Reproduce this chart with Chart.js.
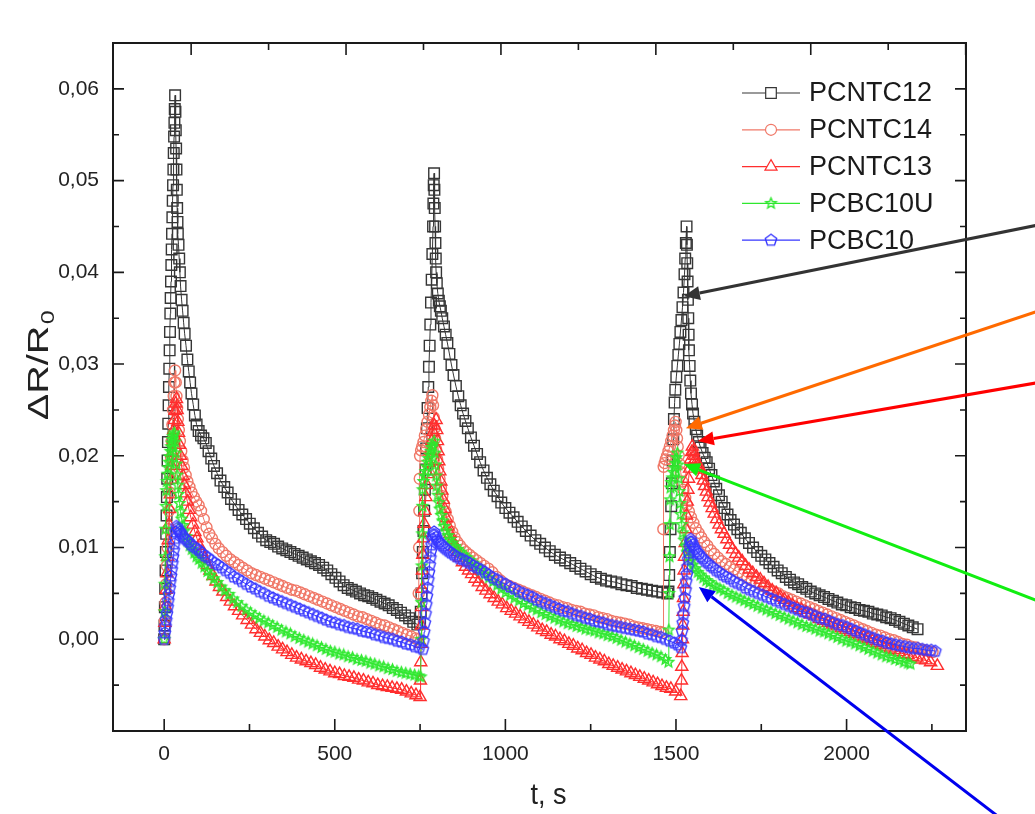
<!DOCTYPE html>
<html>
<head>
<meta charset="utf-8">
<title>dR/R0 vs t</title>
<script src="https://cdn.jsdelivr.net/npm/chart.js@4/dist/chart.umd.min.js"></script>
<style>
  html, body { margin: 0; padding: 0; background: #ffffff; }
  canvas { display: block; }
</style>
</head>
<body>
<canvas id="myChart" width="1035" height="814"></canvas>
<script>
// tick labels
const xTickValues = [0, 500, 1000, 1500, 2000];
const xTickLabels = ['0', '500', '1000', '1500', '2000'];
const xMinorTicks = [250, 750, 1250, 1750, 2250];
const yTickValues = [0, 0.01, 0.02, 0.03, 0.04, 0.05, 0.06];
const yTickLabels = ['0,00', '0,01', '0,02', '0,03', '0,04', '0,05', '0,06'];
const yMinorTicks = [-0.005, 0.005, 0.015, 0.025, 0.035, 0.045, 0.055];
// odd mirrored ticks on the top border of the original plot
const topTicks = [79, 306, 533, 760, 987, 1214, 1441, 1668, 1895, 2122, 2349];

const seriesNames = ['PCNTC12', 'PCNTC14', 'PCNTC13', 'PCBC10U', 'PCBC10'];

// [t (s), dR/R0]
const pcntc12 = [
  [0,0.0000],[1,0.0015],[2,0.0035],[3,0.0055],[4,0.0075],[5,0.0095],[6,0.0115],[7,0.0135],[8,0.0155],[9,0.0175],
  [10,0.0195],[11,0.0215],[12,0.0235],[13,0.0255],[14,0.0275],[15,0.0295],[16,0.0315],[17,0.0335],[18,0.0355],
  [19,0.0372],[20,0.0390],[21,0.0408],[22,0.0425],[23,0.0442],[24,0.0460],[25,0.0478],[26,0.0495],[27,0.0512],
  [28,0.0530],[29,0.0548],[30,0.0563],[31,0.0578],[32,0.0593],
  [33,0.0575],[34,0.0555],[35,0.0535],[36,0.0512],[37,0.0490],[38,0.0470],[39,0.0455],[40,0.0442],[42,0.0430],
  [44,0.0415],[46,0.0400],[48,0.0385],[51,0.0370],[54,0.0358],[57,0.0345],[60,0.0333],[64,0.0320],[68,0.0305],
  [72,0.0292],[76,0.0280],[80,0.0268],[85,0.0256],[90,0.0244],[95,0.0234],[101,0.0227],[108,0.0222],[115,0.0219],
  [122,0.0214],[130,0.0205],[138,0.0197],[146,0.0189],[155,0.0181],[165,0.0173],[176,0.0166],[186,0.0160],
  [196,0.0153],[207,0.0147],[218,0.0141],[229,0.0136],[240,0.0131],[251,0.0126],[263,0.0121],[275,0.0116],
  [287,0.0112],[299,0.0108],[311,0.0106],[322,0.0104],[334,0.0101],[346,0.0099],[358,0.0097],[370,0.0095],
  [382,0.0093],[394,0.0091],[406,0.0089],[418,0.0087],[430,0.0085],[442,0.0083],[454,0.0081],[466,0.0078],
  [478,0.0075],[490,0.0071],[502,0.0067],[514,0.0063],[526,0.0059],[538,0.0056],[550,0.0054],[562,0.0052],
  [574,0.0050],[586,0.0048],[598,0.0047],[610,0.0045],[622,0.0043],[634,0.0041],[646,0.0039],[658,0.0037],
  [670,0.0034],[682,0.0032],[694,0.0029],[706,0.0026],[718,0.0023],[730,0.0019],[742,0.0016],
  [750,0.0018],[752,0.0030],[754,0.0050],[756,0.0072],[758,0.0095],[760,0.0118],[762,0.0140],[764,0.0163],
  [766,0.0185],[768,0.0208],[770,0.0230],[772,0.0252],[774,0.0275],[776,0.0297],[778,0.0320],[780,0.0343],
  [782,0.0367],[784,0.0392],[786,0.0420],[788,0.0450],[789,0.0475],[790,0.0495],[791,0.0508],
  [792,0.0490],[793,0.0470],[794,0.0450],[795,0.0432],[796,0.0415],[797,0.0400],[799,0.0388],[802,0.0377],
  [805,0.0369],[808,0.0363],[811,0.0358],[815,0.0350],[820,0.0341],[825,0.0332],[830,0.0323],[836,0.0311],
  [842,0.0299],[848,0.0288],[855,0.0276],[862,0.0265],[869,0.0255],[876,0.0246],[883,0.0238],[890,0.0230],
  [899,0.0220],[908,0.0211],[917,0.0202],[926,0.0193],[936,0.0184],[946,0.0176],[956,0.0169],[966,0.0162],
  [977,0.0156],[988,0.0149],[1000,0.0143],[1012,0.0138],[1024,0.0133],[1036,0.0128],[1048,0.0123],[1060,0.0118],
  [1074,0.0113],[1088,0.0108],[1102,0.0104],[1116,0.0100],[1130,0.0096],[1145,0.0092],[1160,0.0089],[1175,0.0086],
  [1190,0.0083],[1205,0.0080],[1220,0.0077],[1235,0.0074],[1250,0.0071],[1265,0.0068],[1280,0.0066],[1295,0.0064],
  [1310,0.0063],[1325,0.0062],[1340,0.0060],[1355,0.0059],[1370,0.0058],[1385,0.0056],[1400,0.0055],[1415,0.0054],
  [1430,0.0053],[1445,0.0052],[1460,0.0051],[1475,0.0050],
  [1478,0.0052],[1480,0.0070],[1482,0.0095],[1484,0.0120],[1486,0.0145],[1488,0.0170],[1490,0.0195],[1492,0.0218],
  [1494,0.0240],[1496,0.0258],[1498,0.0272],[1501,0.0286],[1504,0.0298],[1507,0.0310],[1510,0.0322],[1513,0.0335],
  [1516,0.0348],[1519,0.0362],[1522,0.0378],[1525,0.0398],[1527,0.0415],[1529,0.0432],[1531,0.0450],
  [1532,0.0430],[1533,0.0410],[1534,0.0390],[1535,0.0370],[1536,0.0350],[1537,0.0332],[1538,0.0315],[1540,0.0298],
  [1542,0.0282],[1544,0.0268],[1547,0.0256],[1550,0.0246],[1554,0.0237],[1558,0.0229],[1562,0.0222],[1567,0.0215],
  [1572,0.0209],[1578,0.0203],[1584,0.0198],[1590,0.0193],[1597,0.0186],[1604,0.0179],[1611,0.0172],[1618,0.0164],
  [1626,0.0157],[1634,0.0150],[1642,0.0143],[1651,0.0136],[1660,0.0130],[1670,0.0125],[1680,0.0120],[1690,0.0116],
  [1702,0.0110],[1714,0.0105],[1726,0.0100],[1738,0.0095],[1750,0.0091],[1762,0.0087],[1774,0.0083],[1786,0.0079],
  [1798,0.0075],[1810,0.0072],[1822,0.0068],[1834,0.0065],[1846,0.0062],[1858,0.0060],[1870,0.0057],[1882,0.0055],
  [1895,0.0052],[1908,0.0050],[1921,0.0048],[1934,0.0046],[1947,0.0044],[1960,0.0042],[1973,0.0040],[1986,0.0038],
  [1999,0.0037],[2012,0.0035],[2025,0.0034],[2038,0.0032],[2051,0.0031],[2064,0.0030],[2077,0.0028],[2090,0.0027],
  [2103,0.0026],[2116,0.0024],[2129,0.0023],[2142,0.0021],[2155,0.0019],[2168,0.0017],[2181,0.0015],[2194,0.0013],
  [2208,0.0011]
];

const pcntc14 = [
  [0,0.0000],[2,0.0020],[4,0.0040],[6,0.0060],[8,0.0080],[10,0.0100],[12,0.0120],[14,0.0140],[16,0.0160],
  [18,0.0180],[20,0.0198],[22,0.0216],[24,0.0234],[26,0.0250],[28,0.0265],[30,0.0280],[32,0.0293],
  [34,0.0280],[36,0.0265],[38,0.0252],[40,0.0240],[43,0.0228],[46,0.0216],[50,0.0205],[54,0.0195],[58,0.0187],
  [63,0.0179],[68,0.0172],[74,0.0166],[80,0.0160],[87,0.0155],[94,0.0150],[101,0.0146],[108,0.0140],[116,0.0131],
  [124,0.0122],[132,0.0115],[140,0.0110],[150,0.0104],[160,0.0099],[171,0.0095],[182,0.0091],[194,0.0087],
  [206,0.0084],[218,0.0081],[230,0.0078],[243,0.0075],[256,0.0072],[269,0.0070],[282,0.0068],[295,0.0066],
  [308,0.0064],[321,0.0062],[334,0.0060],[347,0.0058],[360,0.0056],[373,0.0054],[386,0.0053],[399,0.0051],
  [412,0.0049],[425,0.0047],[438,0.0045],[451,0.0043],[464,0.0041],[477,0.0039],[490,0.0037],[503,0.0035],
  [516,0.0033],[529,0.0031],[542,0.0029],[555,0.0027],[568,0.0025],[581,0.0024],[594,0.0022],[607,0.0020],
  [620,0.0018],[633,0.0016],[646,0.0015],[659,0.0013],[672,0.0011],[685,0.0009],[698,0.0007],[711,0.0005],
  [724,0.0003],[737,0.0001],[745,0.0000],
  [746,0.0050],[747,0.0100],[748,0.0140],[749,0.0175],[750,0.0200],[753,0.0206],[756,0.0210],[760,0.0215],
  [764,0.0222],[768,0.0229],[772,0.0237],[776,0.0245],[780,0.0253],[783,0.0260],[786,0.0266],
  [788,0.0255],[790,0.0242],[792,0.0230],[794,0.0219],[797,0.0207],[800,0.0196],[803,0.0186],[807,0.0175],
  [811,0.0165],[815,0.0156],[820,0.0147],[825,0.0139],[831,0.0131],[837,0.0124],[844,0.0117],[851,0.0111],
  [859,0.0106],[867,0.0102],[876,0.0098],[885,0.0095],[895,0.0092],[905,0.0089],[916,0.0086],[927,0.0083],
  [938,0.0080],[950,0.0077],[962,0.0073],[974,0.0068],[986,0.0064],[999,0.0060],[1012,0.0058],[1025,0.0056],
  [1038,0.0054],[1051,0.0052],[1064,0.0050],[1077,0.0048],[1090,0.0046],[1103,0.0044],[1116,0.0042],[1129,0.0040],
  [1142,0.0038],[1155,0.0037],[1168,0.0035],[1181,0.0034],[1194,0.0032],[1207,0.0031],[1220,0.0030],[1233,0.0028],
  [1246,0.0027],[1259,0.0026],[1272,0.0024],[1285,0.0023],[1298,0.0022],[1311,0.0020],[1324,0.0019],[1337,0.0018],
  [1350,0.0017],[1363,0.0016],[1376,0.0014],[1389,0.0013],[1402,0.0012],[1415,0.0011],[1428,0.0010],[1441,0.0009],
  [1454,0.0008],[1462,0.0007],
  [1463,0.0120],[1464,0.0188],[1467,0.0192],[1470,0.0196],[1474,0.0200],[1478,0.0205],[1482,0.0210],[1486,0.0216],
  [1490,0.0222],[1494,0.0228],[1497,0.0233],[1499,0.0237],
  [1501,0.0228],[1503,0.0219],[1505,0.0210],[1508,0.0200],[1511,0.0191],[1514,0.0182],[1518,0.0172],[1522,0.0163],
  [1527,0.0154],[1532,0.0146],[1538,0.0139],[1544,0.0133],[1551,0.0127],[1558,0.0121],[1566,0.0116],[1574,0.0111],
  [1583,0.0106],[1592,0.0102],[1602,0.0097],[1612,0.0093],[1623,0.0089],[1634,0.0085],[1646,0.0082],[1658,0.0079],
  [1670,0.0076],[1683,0.0073],[1696,0.0070],[1709,0.0067],[1722,0.0064],[1735,0.0062],[1748,0.0059],[1761,0.0057],
  [1774,0.0054],[1787,0.0052],[1800,0.0050],[1813,0.0047],[1826,0.0045],[1839,0.0043],[1852,0.0041],[1865,0.0039],
  [1878,0.0037],[1891,0.0035],[1904,0.0033],[1917,0.0031],[1930,0.0029],[1943,0.0027],[1956,0.0025],[1969,0.0023],
  [1982,0.0021],[1995,0.0019],[2008,0.0017],[2021,0.0015],[2034,0.0013],[2047,0.0011],[2060,0.0009],[2073,0.0007],
  [2086,0.0005],[2099,0.0004],[2112,0.0002],[2125,0.0000],[2138,-0.0001],[2151,-0.0003],[2164,-0.0005],
  [2177,-0.0006],[2190,-0.0008],[2203,-0.0009],[2216,-0.0011],[2229,-0.0012],[2242,-0.0013],[2252,-0.0014]
];

const pcntc13 = [
  [0,0.0000],[2,0.0018],[4,0.0036],[6,0.0054],[8,0.0072],[10,0.0090],[12,0.0108],[14,0.0125],[16,0.0142],
  [18,0.0158],[20,0.0174],[22,0.0189],[24,0.0203],[26,0.0216],[28,0.0228],[30,0.0239],[32,0.0249],[34,0.0257],
  [36,0.0262],
  [38,0.0250],[40,0.0237],[42,0.0225],[45,0.0212],[48,0.0200],[51,0.0189],[55,0.0178],[59,0.0168],[63,0.0159],
  [68,0.0150],[73,0.0141],[78,0.0133],[84,0.0125],[90,0.0117],[96,0.0110],[103,0.0102],[110,0.0095],[118,0.0088],
  [126,0.0081],[134,0.0075],[143,0.0069],[152,0.0063],[162,0.0057],[172,0.0052],[183,0.0046],[194,0.0041],
  [206,0.0036],[218,0.0031],[230,0.0026],[243,0.0021],[256,0.0016],[269,0.0011],[282,0.0007],[295,0.0003],
  [308,-0.0001],[321,-0.0004],[334,-0.0008],[347,-0.0011],[360,-0.0014],[374,-0.0017],[388,-0.0020],[402,-0.0022],
  [416,-0.0024],[430,-0.0026],[444,-0.0028],[458,-0.0031],[472,-0.0033],[486,-0.0035],[500,-0.0037],[514,-0.0038],
  [528,-0.0040],[542,-0.0041],[556,-0.0042],[570,-0.0044],[584,-0.0045],[598,-0.0047],[612,-0.0048],[626,-0.0050],
  [640,-0.0051],[654,-0.0052],[668,-0.0053],[682,-0.0054],[696,-0.0055],[710,-0.0057],[724,-0.0059],[738,-0.0061],
  [750,-0.0063],
  [751,-0.0045],[752,-0.0025],[753,-0.0005],[754,0.0015],[755,0.0035],[756,0.0055],[757,0.0075],[758,0.0092],
  [760,0.0110],[762,0.0126],[764,0.0140],[767,0.0155],[770,0.0168],[773,0.0180],[776,0.0192],[780,0.0205],
  [784,0.0216],[788,0.0226],[792,0.0233],[797,0.0239],
  [799,0.0228],[801,0.0216],[803,0.0205],[805,0.0194],[808,0.0183],[811,0.0172],[814,0.0162],[818,0.0152],
  [822,0.0142],[827,0.0132],[832,0.0123],[838,0.0115],[844,0.0108],[851,0.0101],[858,0.0095],[866,0.0089],
  [874,0.0084],[883,0.0079],[892,0.0075],[901,0.0071],[911,0.0066],[921,0.0062],[932,0.0057],[943,0.0053],
  [955,0.0049],[967,0.0045],[979,0.0041],[991,0.0038],[1004,0.0034],[1017,0.0031],[1030,0.0028],[1043,0.0025],
  [1056,0.0022],[1069,0.0019],[1082,0.0016],[1095,0.0013],[1108,0.0010],[1121,0.0008],[1134,0.0005],[1147,0.0003],
  [1160,0.0000],[1173,-0.0002],[1186,-0.0005],[1199,-0.0007],[1212,-0.0010],[1225,-0.0012],[1238,-0.0015],
  [1251,-0.0017],[1264,-0.0020],[1277,-0.0022],[1290,-0.0024],[1303,-0.0027],[1316,-0.0029],[1329,-0.0031],
  [1342,-0.0033],[1355,-0.0035],[1368,-0.0037],[1381,-0.0039],[1394,-0.0041],[1407,-0.0043],[1420,-0.0045],
  [1433,-0.0047],[1446,-0.0049],[1459,-0.0051],[1472,-0.0053],[1485,-0.0054],[1499,-0.0057],[1514,-0.0062],
  [1516,-0.0045],[1517,-0.0030],[1518,-0.0015],[1519,0.0000],[1520,0.0015],[1521,0.0030],[1522,0.0045],
  [1523,0.0060],[1524,0.0075],[1525,0.0090],[1527,0.0105],[1529,0.0120],[1531,0.0135],[1533,0.0150],[1535,0.0163],
  [1537,0.0175],[1540,0.0186],[1543,0.0196],[1546,0.0204],[1548,0.0210],
  [1551,0.0205],[1554,0.0200],[1557,0.0196],[1560,0.0193],[1563,0.0191],[1566,0.0189],[1569,0.0187],[1572,0.0185],
  [1576,0.0179],[1580,0.0173],[1584,0.0167],[1589,0.0161],[1594,0.0155],[1600,0.0149],[1606,0.0143],[1612,0.0137],
  [1619,0.0131],[1626,0.0125],[1633,0.0120],[1641,0.0115],[1649,0.0109],[1657,0.0103],[1666,0.0098],[1675,0.0093],
  [1684,0.0089],[1694,0.0085],[1704,0.0080],[1714,0.0076],[1725,0.0072],[1736,0.0068],[1747,0.0065],[1758,0.0061],
  [1770,0.0057],[1782,0.0053],[1794,0.0050],[1806,0.0046],[1818,0.0043],[1830,0.0040],[1842,0.0037],[1855,0.0034],
  [1868,0.0032],[1881,0.0029],[1894,0.0027],[1907,0.0025],[1920,0.0022],[1933,0.0020],[1946,0.0018],[1959,0.0016],
  [1972,0.0014],[1985,0.0012],[1998,0.0010],[2011,0.0008],[2024,0.0006],[2037,0.0004],[2050,0.0002],[2063,0.0000],
  [2076,-0.0002],[2089,-0.0004],[2102,-0.0006],[2115,-0.0008],[2128,-0.0010],[2141,-0.0012],[2154,-0.0014],
  [2167,-0.0016],[2180,-0.0017],[2193,-0.0019],[2206,-0.0020],[2219,-0.0022],[2232,-0.0023],[2246,-0.0025],
  [2266,-0.0029]
];

const pcbc10u = [
  [0,0.0000],[1,0.0030],[2,0.0060],[3,0.0090],[4,0.0120],[5,0.0145],[6,0.0162],[8,0.0172],[10,0.0180],[12,0.0187],
  [14,0.0193],[16,0.0199],[18,0.0205],[20,0.0210],[22,0.0214],[24,0.0218],[26,0.0221],[28,0.0223],[30,0.0225],
  [32,0.0215],[34,0.0203],[36,0.0191],[38,0.0179],[40,0.0168],[42,0.0158],[45,0.0148],[48,0.0139],[51,0.0131],
  [55,0.0124],[59,0.0118],[64,0.0112],[69,0.0107],[75,0.0102],[81,0.0098],[88,0.0094],[95,0.0090],[102,0.0087],
  [110,0.0083],[118,0.0079],[127,0.0074],[136,0.0070],[146,0.0066],[156,0.0062],[167,0.0057],[178,0.0053],
  [190,0.0049],[202,0.0044],[214,0.0040],[227,0.0036],[240,0.0032],[253,0.0029],[266,0.0026],[279,0.0023],
  [292,0.0020],[305,0.0018],[318,0.0015],[331,0.0013],[344,0.0010],[357,0.0008],[370,0.0006],[383,0.0003],
  [396,0.0001],[409,-0.0001],[422,-0.0003],[435,-0.0005],[448,-0.0007],[461,-0.0009],[474,-0.0011],[487,-0.0013],
  [500,-0.0014],[513,-0.0016],[526,-0.0017],[539,-0.0019],[552,-0.0020],[565,-0.0022],[578,-0.0023],[591,-0.0024],
  [604,-0.0026],[617,-0.0027],[630,-0.0029],[643,-0.0030],[656,-0.0032],[669,-0.0033],[682,-0.0035],[695,-0.0036],
  [708,-0.0037],[721,-0.0038],[734,-0.0039],[746,-0.0040],[752,-0.0041],
  [753,0.0000],[754,0.0040],[755,0.0080],[756,0.0115],[757,0.0145],[758,0.0163],[760,0.0172],[763,0.0178],
  [766,0.0183],[769,0.0188],[772,0.0193],[775,0.0197],[778,0.0201],[781,0.0205],[784,0.0209],[787,0.0212],
  [791,0.0216],
  [793,0.0203],[795,0.0190],[797,0.0178],[799,0.0167],[802,0.0157],[805,0.0149],[808,0.0142],[812,0.0135],
  [816,0.0129],[821,0.0123],[826,0.0118],[832,0.0113],[838,0.0109],[845,0.0105],[852,0.0101],[860,0.0098],
  [868,0.0095],[877,0.0092],[886,0.0089],[896,0.0086],[906,0.0083],[917,0.0079],[928,0.0075],[940,0.0071],
  [952,0.0067],[964,0.0063],[976,0.0059],[988,0.0055],[1001,0.0051],[1014,0.0048],[1027,0.0045],[1040,0.0042],
  [1053,0.0039],[1066,0.0037],[1079,0.0034],[1092,0.0032],[1105,0.0029],[1118,0.0027],[1131,0.0025],[1144,0.0023],
  [1157,0.0021],[1170,0.0019],[1183,0.0017],[1196,0.0016],[1209,0.0014],[1222,0.0013],[1235,0.0011],[1248,0.0010],
  [1261,0.0009],[1274,0.0007],[1287,0.0006],[1300,0.0004],[1313,0.0003],[1326,0.0001],[1339,-0.0001],
  [1352,-0.0003],[1365,-0.0005],[1378,-0.0007],[1391,-0.0009],[1404,-0.0011],[1417,-0.0013],[1430,-0.0015],
  [1443,-0.0017],[1456,-0.0019],[1469,-0.0022],[1478,-0.0025],
  [1479,0.0010],[1480,0.0050],[1481,0.0090],[1482,0.0125],[1483,0.0152],[1484,0.0165],[1486,0.0171],[1489,0.0176],
  [1492,0.0182],[1495,0.0187],[1498,0.0192],[1501,0.0198],[1504,0.0203],
  [1506,0.0190],[1508,0.0175],[1510,0.0161],[1512,0.0148],[1514,0.0136],[1517,0.0125],[1520,0.0116],[1524,0.0108],
  [1528,0.0101],[1533,0.0095],[1538,0.0090],[1544,0.0085],[1550,0.0081],[1557,0.0077],[1564,0.0073],[1572,0.0070],
  [1580,0.0067],[1589,0.0064],[1598,0.0062],[1608,0.0059],[1618,0.0057],[1629,0.0055],[1640,0.0053],[1652,0.0050],
  [1664,0.0048],[1676,0.0046],[1688,0.0044],[1700,0.0042],[1713,0.0040],[1726,0.0038],[1739,0.0036],[1752,0.0034],
  [1765,0.0032],[1778,0.0030],[1791,0.0028],[1804,0.0026],[1817,0.0024],[1830,0.0022],[1843,0.0020],[1856,0.0018],
  [1869,0.0016],[1882,0.0014],[1895,0.0013],[1908,0.0011],[1921,0.0009],[1934,0.0008],[1947,0.0006],[1960,0.0004],
  [1973,0.0002],[1986,0.0000],[1999,-0.0002],[2012,-0.0003],[2025,-0.0005],[2038,-0.0007],[2051,-0.0009],
  [2064,-0.0011],[2077,-0.0013],[2090,-0.0015],[2103,-0.0017],[2116,-0.0019],[2129,-0.0020],[2142,-0.0022],
  [2155,-0.0023],[2168,-0.0025],[2180,-0.0026],[2187,-0.0027]
];

const pcbc10 = [
  [0,0.0000],[2,0.0007],[4,0.0014],[6,0.0021],[8,0.0028],[10,0.0035],[12,0.0042],[14,0.0049],[16,0.0056],
  [18,0.0063],[20,0.0069],[22,0.0076],[24,0.0083],[26,0.0090],[28,0.0097],[30,0.0104],[32,0.0110],[34,0.0117],
  [36,0.0123],
  [39,0.0121],[42,0.0119],[46,0.0117],[50,0.0115],[55,0.0112],[60,0.0110],[66,0.0108],[72,0.0106],[79,0.0103],
  [86,0.0101],[94,0.0099],[102,0.0097],[110,0.0094],[119,0.0091],[128,0.0089],[138,0.0086],[148,0.0083],
  [158,0.0081],[169,0.0078],[180,0.0075],[192,0.0072],[204,0.0068],[216,0.0066],[228,0.0063],[241,0.0060],
  [254,0.0057],[267,0.0055],[280,0.0052],[293,0.0050],[306,0.0047],[319,0.0045],[332,0.0043],[345,0.0041],
  [358,0.0039],[371,0.0037],[384,0.0035],[397,0.0033],[410,0.0031],[423,0.0029],[436,0.0027],[449,0.0025],
  [462,0.0023],[475,0.0021],[488,0.0019],[501,0.0018],[514,0.0016],[527,0.0015],[540,0.0013],[553,0.0012],
  [566,0.0011],[579,0.0009],[592,0.0008],[605,0.0007],[618,0.0005],[631,0.0004],[644,0.0002],[657,0.0001],
  [670,0.0000],[683,-0.0002],[696,-0.0003],[709,-0.0005],[722,-0.0006],[735,-0.0008],[748,-0.0009],[758,-0.0011],
  [760,-0.0002],[762,0.0008],[764,0.0018],[766,0.0028],[768,0.0038],[770,0.0047],[772,0.0056],[774,0.0065],
  [776,0.0073],[778,0.0081],[780,0.0089],[782,0.0096],[784,0.0103],[786,0.0109],[788,0.0114],[791,0.0117],
  [794,0.0114],[797,0.0111],[801,0.0108],[805,0.0106],[810,0.0104],[815,0.0102],[821,0.0100],[827,0.0098],
  [834,0.0096],[841,0.0094],[849,0.0092],[857,0.0090],[866,0.0088],[875,0.0087],[885,0.0085],[895,0.0083],
  [906,0.0080],[917,0.0078],[928,0.0076],[940,0.0073],[952,0.0070],[964,0.0067],[976,0.0065],[988,0.0062],
  [1001,0.0060],[1014,0.0057],[1027,0.0055],[1040,0.0052],[1053,0.0050],[1066,0.0048],[1079,0.0046],[1092,0.0043],
  [1105,0.0041],[1118,0.0039],[1131,0.0037],[1144,0.0035],[1157,0.0033],[1170,0.0031],[1183,0.0030],[1196,0.0028],
  [1209,0.0026],[1222,0.0025],[1235,0.0023],[1248,0.0022],[1261,0.0020],[1274,0.0019],[1287,0.0018],[1300,0.0016],
  [1313,0.0015],[1326,0.0014],[1339,0.0013],[1352,0.0012],[1365,0.0011],[1378,0.0010],[1391,0.0009],[1404,0.0008],
  [1417,0.0006],[1430,0.0005],[1443,0.0003],[1456,0.0002],[1469,0.0000],[1482,-0.0002],[1495,-0.0004],
  [1505,-0.0006],[1514,-0.0009],
  [1516,-0.0001],[1518,0.0009],[1520,0.0018],[1522,0.0027],[1524,0.0036],[1526,0.0045],[1528,0.0054],[1530,0.0063],
  [1532,0.0071],[1534,0.0079],[1536,0.0087],[1538,0.0094],[1540,0.0101],[1542,0.0106],[1543,0.0109],
  [1546,0.0106],[1549,0.0103],[1553,0.0100],[1557,0.0098],[1562,0.0095],[1567,0.0093],[1573,0.0090],[1579,0.0088],
  [1586,0.0085],[1593,0.0083],[1601,0.0080],[1609,0.0078],[1618,0.0075],[1627,0.0073],[1637,0.0070],[1647,0.0068],
  [1658,0.0066],[1669,0.0063],[1680,0.0061],[1692,0.0059],[1704,0.0056],[1716,0.0054],[1728,0.0052],[1741,0.0050],
  [1754,0.0048],[1767,0.0046],[1780,0.0044],[1793,0.0042],[1806,0.0040],[1819,0.0038],[1832,0.0036],[1845,0.0034],
  [1858,0.0032],[1871,0.0030],[1884,0.0029],[1897,0.0027],[1910,0.0025],[1923,0.0023],[1936,0.0022],[1949,0.0020],
  [1962,0.0018],[1975,0.0016],[1988,0.0015],[2001,0.0013],[2014,0.0011],[2027,0.0009],[2040,0.0007],[2053,0.0005],
  [2066,0.0003],[2079,0.0001],[2092,-0.0001],[2105,-0.0002],[2118,-0.0004],[2131,-0.0005],[2144,-0.0006],
  [2157,-0.0007],[2170,-0.0008],[2183,-0.0009],[2196,-0.0010],[2209,-0.0010],[2222,-0.0011],[2235,-0.0012],
  [2248,-0.0012],[2260,-0.0013]
];

// annotation arrows, tail -> tip, in data units
const arrowTipT = [1523, 1529, 1564, 1523, 1567];
const arrowTipV = [0.0374, 0.0230, 0.0216, 0.0191, 0.0057];
const arrowTailT = [2580, 2580, 2580, 2580, 2440];
const arrowTailV = [0.0453, 0.0360, 0.0281, 0.0039, -0.0192];
const arrowColors = ['#333333', '#ff6a00', '#ff0000', '#11ee11', '#0000ee'];

const FONT = "'Liberation Sans', Arial, Helvetica, sans-serif";

function shapeCanvas(color, r, n, inner) {
  const s = Math.ceil(r * 2 + 4);
  const c = document.createElement('canvas');
  c.width = s; c.height = s;
  const g = c.getContext('2d');
  g.strokeStyle = color;
  g.lineWidth = 1.4;
  g.beginPath();
  const k = inner ? n * 2 : n;
  for (let i = 0; i < k; i++) {
    const a = -Math.PI / 2 + i * 2 * Math.PI / k;
    const rr = inner && i % 2 ? r * inner : r;
    g.lineTo(s / 2 + rr * Math.cos(a), s / 2 + rr * Math.sin(a));
  }
  g.closePath();
  g.stroke();
  return c;
}

const colors = ['#363636', '#f07868', '#ff2e2e', '#2ee82e', '#3636ff'];
const styles = [
  { pointStyle: 'rect', radius: 7.5 },
  { pointStyle: 'circle', radius: 5.5 },
  { pointStyle: 'triangle', radius: 7 },
  { pointStyle: shapeCanvas(colors[3], 5.5, 5, 0.45), radius: 5.5 },
  { pointStyle: shapeCanvas(colors[4], 6, 5, 0), radius: 6 }
];
const allData = [pcntc12, pcntc14, pcntc13, pcbc10u, pcbc10];

const framePlugin = {
  id: 'frame',
  afterDraw(chart) {
    const { ctx, chartArea: a, scales: { x, y } } = chart;
    ctx.save();
    ctx.strokeStyle = '#1a1a1a';
    ctx.lineWidth = 2;
    ctx.strokeRect(a.left, a.top, a.right - a.left, a.bottom - a.top);
    ctx.lineWidth = 1.6;
    ctx.beginPath();
    const xt = (v, len) => {
      const px = x.getPixelForValue(v);
      ctx.moveTo(px, a.bottom); ctx.lineTo(px, a.bottom - len);
    };
    xTickValues.forEach(v => xt(v, 12));
    xMinorTicks.forEach(v => xt(v, 7));
    topTicks.forEach((v, i) => {
      const px = x.getPixelForValue(v);
      ctx.moveTo(px, a.top); ctx.lineTo(px, a.top + (i % 2 ? 7 : 12));
    });
    const yt = (v, len) => {
      const py = y.getPixelForValue(v);
      ctx.moveTo(a.left, py); ctx.lineTo(a.left + len, py);
      ctx.moveTo(a.right, py); ctx.lineTo(a.right - len, py);
    };
    yTickValues.forEach(v => yt(v, 11));
    yMinorTicks.forEach(v => yt(v, 6));
    ctx.stroke();

    // axis titles
    ctx.fillStyle = '#222';
    ctx.textAlign = 'center';
    ctx.textBaseline = 'middle';
    ctx.font = '27px ' + FONT;
    ctx.save();
    ctx.translate((a.left + a.right) / 2 + 9, 796);
    ctx.scale(1, 1.12);
    ctx.fillText('t, s', 0, 0);
    ctx.restore();
    ctx.translate(40, (a.top + a.bottom) / 2 - 21);
    ctx.rotate(-Math.PI / 2);
    ctx.scale(1.32, 1);
    ctx.textAlign = 'left';
    const main = '\u0394R/R';
    ctx.font = '30px ' + FONT;
    const w = ctx.measureText(main).width;
    ctx.font = '19px ' + FONT;
    const w0 = ctx.measureText('0').width;
    ctx.font = '30px ' + FONT;
    ctx.fillText(main, -(w + w0) / 2, 0);
    ctx.font = '19px ' + FONT;
    ctx.fillText('0', -(w + w0) / 2 + w + 1, 9);
    ctx.restore();
  }
};

const legendPlugin = {
  id: 'boxLegend',
  afterDraw(chart) {
    const { ctx, chartArea: a } = chart;
    ctx.save();
    chart.data.datasets.forEach((ds, i) => {
      const yy = a.top + 50 + i * 36.8;
      const x0 = a.right - 224;
      ctx.strokeStyle = ds.borderColor;
      ctx.lineWidth = 1.2;
      ctx.beginPath();
      ctx.moveTo(x0, yy); ctx.lineTo(x0 + 58, yy);
      ctx.stroke();
      ctx.fillStyle = '#fff';
      Chart.helpers.drawPoint(ctx, {
        pointStyle: ds.pointStyle, radius: ds.pointRadius, borderWidth: 1.2, rotation: 0
      }, x0 + 29, yy);
      ctx.fillStyle = '#1a1a1a';
      ctx.font = '27px ' + FONT;
      ctx.textAlign = 'left';
      ctx.textBaseline = 'middle';
      ctx.fillText(seriesNames[i], x0 + 67, yy + 1);
    });
    ctx.restore();
  }
};

const arrowPlugin = {
  id: 'arrows',
  afterDraw(chart) {
    const { ctx, scales: { x, y } } = chart;
    ctx.save();
    arrowTipT.forEach((t, i) => {
      const x1 = x.getPixelForValue(arrowTailT[i]), y1 = y.getPixelForValue(arrowTailV[i]);
      const x2 = x.getPixelForValue(t), y2 = y.getPixelForValue(arrowTipV[i]);
      const ang = Math.atan2(y2 - y1, x2 - x1);
      const hl = 16, hw = 7;
      const bx = x2 - hl * Math.cos(ang), by = y2 - hl * Math.sin(ang);
      ctx.strokeStyle = arrowColors[i];
      ctx.fillStyle = arrowColors[i];
      ctx.lineWidth = 3;
      ctx.beginPath();
      ctx.moveTo(x1, y1); ctx.lineTo(bx, by);
      ctx.stroke();
      ctx.beginPath();
      ctx.moveTo(x2, y2);
      ctx.lineTo(bx + hw * Math.sin(ang), by - hw * Math.cos(ang));
      ctx.lineTo(bx - hw * Math.sin(ang), by + hw * Math.cos(ang));
      ctx.closePath();
      ctx.fill();
    });
    ctx.restore();
  }
};

new Chart(document.getElementById('myChart'), {
  type: 'scatter',
  data: {
    datasets: allData.map((d, i) => ({
      label: seriesNames[i],
      data: d,
      showLine: true,
      borderColor: colors[i],
      backgroundColor: 'rgba(0,0,0,0)',
      borderWidth: 1,
      pointBorderWidth: 1.4,
      pointStyle: styles[i].pointStyle,
      pointRadius: styles[i].radius,
      pointBorderColor: colors[i],
      order: 4 - i
    }))
  },
  options: {
    responsive: false,
    devicePixelRatio: 1,
    animation: false,
    layout: { padding: { top: 43, right: 69, left: 0, bottom: 0 } },
    scales: {
      x: {
        type: 'linear',
        min: -150,
        max: 2350,
        afterFit: s => { s.height = 83; },
        afterBuildTicks: s => { s.ticks = xTickValues.map(v => ({ value: v })); },
        grid: { display: false, drawTicks: false },
        border: { display: false },
        ticks: {
          padding: 11,
          color: '#222',
          font: { family: FONT, size: 21 },
          callback: (v, i) => xTickLabels[i]
        }
      },
      y: {
        type: 'linear',
        min: -0.01,
        max: 0.065,
        afterFit: s => { s.width = 113; },
        afterBuildTicks: s => { s.ticks = yTickValues.map(v => ({ value: v })); },
        grid: { display: false, drawTicks: false },
        border: { display: false },
        ticks: {
          padding: 14,
          color: '#222',
          font: { family: FONT, size: 21 },
          callback: (v, i) => yTickLabels[i]
        }
      }
    },
    plugins: {
      legend: { display: false },
      tooltip: { enabled: false }
    }
  },
  plugins: [framePlugin, legendPlugin, arrowPlugin]
});
</script>
</body>
</html>
